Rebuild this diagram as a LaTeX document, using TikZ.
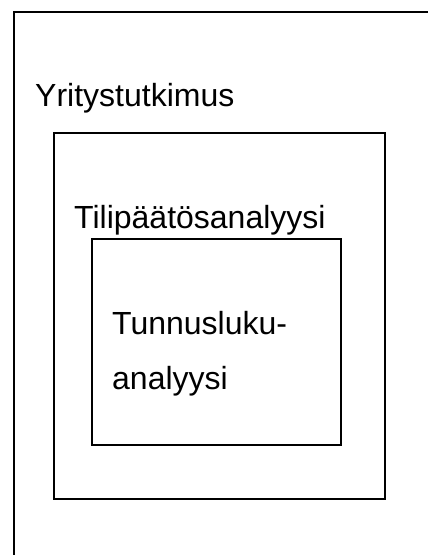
\documentclass[tikz,border=0pt]{standalone}
\usepackage{fontspec}
\setmainfont{Liberation Sans}
\begin{document}
\begin{tikzpicture}[x=1pt,y=1pt,
  frame/.style={draw=black, line width=1.7pt, inner sep=0pt, fill=none},
  lbl/.style={anchor=base west, inner sep=0pt, font=\fontsize{32}{55}\selectfont}]
\useasboundingbox (0,0) rectangle (428,555);
\clip (0,0) rectangle (428,555);
% outer frame (extends past right and bottom edges)
\node[frame, minimum width=437pt, minimum height=564pt, anchor=north west] (outer) at (13,544) {};
% middle frame
\node[frame, minimum width=331pt, minimum height=366pt, anchor=north west] (middle) at (53,423) {};
% inner frame
\node[frame, minimum width=249pt, minimum height=206pt, anchor=north west] (inner) at (91,317) {};
% labels
\node[lbl] (t1) at (35,448) {Yritystutkimus};
\node[lbl] (t2) at (74,326.5) {Tilipäätösanalyysi};
\node[lbl] (t3) at (112,220) {Tunnusluku-};
\node[lbl] (t4) at (112,165) {analyysi};
\end{tikzpicture}
\end{document}
